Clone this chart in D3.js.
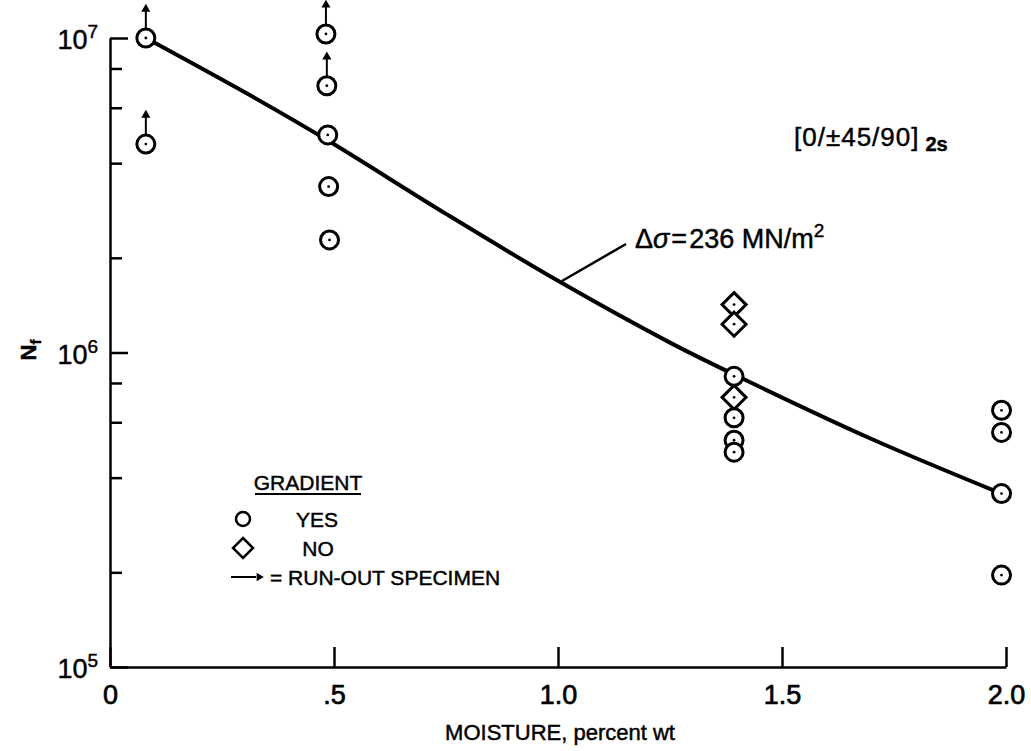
<!DOCTYPE html>
<html>
<head>
<meta charset="utf-8">
<script src="https://cdn.jsdelivr.net/npm/d3@7"></script>
<style>
body { margin: 0; background: #fff; }
text { font-family: "Liberation Sans", Arial, Helvetica, sans-serif; fill: #000; stroke: #000; stroke-width: 0.45px; }
</style>
</head>
<body>
<script>
// gradient = yes specimens (circles)
var yesMoisture = [0.08, 0.08, 0.482, 0.484, 0.486, 0.488, 0.49, 1.393, 1.393, 1.393, 1.393, 1.99, 1.99, 1.99, 1.99];
var yesCycles = [1.0e7, 4.6e6, 1.03e7, 7.05e6, 4.92e6, 3.37e6, 2.28e6, 8.4e5, 6.2e5, 5.26e5, 4.82e5, 6.55e5, 5.57e5, 3.56e5, 1.96e5];
var yesRunout = [1, 1, 1, 1, 0, 0, 0, 0, 0, 0, 0, 0, 0, 0, 0];

// gradient = no specimens (diamonds)
var noMoisture = [1.393, 1.393, 1.393];
var noCycles = [1.42e6, 1.23e6, 7.2e5];

// fitted curve, delta sigma = 236 MN/m2
var fitMoisture = [0.08, 0.3, 0.48, 0.75, 1.0, 1.25, 1.4, 1.7, 1.99];
var fitCycles = [1.0e7, 6.73e6, 4.78e6, 2.76e6, 1.69e6, 1.075e6, 8.42e5, 5.31e5, 3.56e5];

var xTicks = [0, 0.5, 1.0, 1.5, 2.0];
var xTickLabels = ["0", ".5", "1.0", "1.5", "2.0"];
var yMajor = [1e5, 1e6, 1e7];
var yMajorExp = ["5", "6", "7"];
var yMinor = [2e5, 4e5, 6e5, 8e5, 2e6, 4e6, 6e6, 8e6];

function plot_it() {
    var width = 1031, height = 751;
    var svg = d3.select('body').append('svg').attr('width', width).attr('height', height);

    var x = d3.scaleLinear().domain([0, 2]).range([110, 1006]);
    var y = d3.scaleLog().domain([1e5, 1e7]).range([667, 38]);

    // y axis, ticks point inward
    svg.append('g').attr('transform', 'translate(' + x(0) + ',0)')
        .call(d3.axisLeft(y).tickValues(yMajor).tickSize(-18).tickSizeOuter(0).tickFormat(''));
    svg.append('g').attr('transform', 'translate(' + x(0) + ',0)')
        .call(d3.axisLeft(y).tickValues(yMinor).tickSize(-12).tickSizeOuter(0).tickFormat(''))
        .select('.domain').remove();

    // x axis
    var xAxis = svg.append('g').attr('transform', 'translate(0,' + y(1e5) + ')')
        .call(d3.axisBottom(x).tickValues(xTicks).tickSize(-20).tickSizeOuter(0).tickPadding(18)
            .tickFormat(function (d, i) { return xTickLabels[i]; }));
    xAxis.selectAll('text').style('font-family', '"Liberation Sans Narrow", "Liberation Sans", Arial, sans-serif')
        .style('font-size', '27px').attr('fill', '#000').style('stroke', '#000').style('stroke-width', '0.7px');

    svg.selectAll('.domain, .tick line').attr('stroke', '#000').attr('stroke-width', 2.5);

    // y tick labels 10^n
    var yl = svg.append('g');
    yMajor.forEach(function (v, i) {
        var t = yl.append('text').attr('x', 98).attr('y', y(v) + 11)
            .attr('text-anchor', 'end').style('font-size', '27px');
        t.append('tspan').text('10');
        t.append('tspan').attr('dy', -11).style('font-size', '19px').text(yMajorExp[i]);
    });

    // axis titles
    svg.append('text').attr('x', 560).attr('y', 740).attr('text-anchor', 'middle')
        .style('font-size', '22px').text('MOISTURE, percent wt');
    var nf = svg.append('text').attr('transform', 'translate(36,350) rotate(-90)')
        .attr('text-anchor', 'middle').style('font-size', '22px').style('font-weight', 'bold');
    nf.append('tspan').text('N');
    nf.append('tspan').attr('dy', 5).style('font-size', '15px').text('f');

    // fitted curve
    var fit = fitMoisture.map(function (d, i) { return [d, fitCycles[i]]; });
    var line = d3.line().x(function (d) { return x(d[0]); }).y(function (d) { return y(d[1]); })
        .curve(d3.curveCatmullRom);
    svg.append('path').datum(fit).attr('d', line)
        .attr('fill', 'none').attr('stroke', '#000').attr('stroke-width', 4);

    // run-out arrows
    var arrowHead = d3.symbol().type(d3.symbolTriangle).size(36);
    yesMoisture.forEach(function (m, i) {
        if (!yesRunout[i]) return;
        var cx = x(m), cy = y(yesCycles[i]);
        svg.append('line').attr('x1', cx).attr('x2', cx).attr('y1', cy - 9).attr('y2', cy - 27)
            .attr('stroke', '#000').attr('stroke-width', 2);
        svg.append('path').attr('d', arrowHead).attr('transform', 'translate(' + cx + ',' + (cy - 29) + ')')
            .attr('fill', '#000');
    });

    // diamonds
    var no = svg.selectAll('.no').data(noMoisture).enter().append('g').attr('class', 'no')
        .attr('transform', function (d, i) { return 'translate(' + x(d) + ',' + y(noCycles[i]) + ')'; });
    no.append('path').attr('d', 'M0,-12L12,0L0,12L-12,0Z')
        .attr('fill', '#fff').attr('stroke', '#000').attr('stroke-width', 3);
    no.append('circle').attr('r', 1.4).attr('fill', '#000');

    // circles
    var yes = svg.selectAll('.yes').data(yesMoisture).enter().append('g').attr('class', 'yes')
        .attr('transform', function (d, i) { return 'translate(' + x(d) + ',' + y(yesCycles[i]) + ')'; });
    yes.append('circle').attr('r', 9)
        .attr('fill', '#fff').attr('stroke', '#000').attr('stroke-width', 3);
    yes.append('circle').attr('r', 1.4).attr('fill', '#000');

    // annotation
    svg.append('line').attr('x1', 562).attr('y1', 281).attr('x2', 626).attr('y2', 244)
        .attr('stroke', '#000').attr('stroke-width', 2.5);
    var ann = svg.append('text').attr('x', 635).attr('y', 248).style('font-size', '27px');
    ann.append('tspan').text('\u0394');
    ann.append('tspan').style('font-style', 'italic').text('\u03c3');
    ann.append('tspan').attr('dx', 2).text('=');
    ann.append('tspan').attr('dx', 2).text('236 MN/m');
    ann.append('tspan').attr('dy', -11).style('font-size', '19px').text('2');

    var lay = svg.append('text').attr('x', 794).attr('y', 146).style('font-size', '26px')
        .style('letter-spacing', '1px');
    lay.append('tspan').text('[0/\u00b145/90]');
    lay.append('tspan').attr('dx', 6).attr('dy', 5).style('font-size', '20px').style('font-weight', 'bold')
        .style('letter-spacing', '0px').text('2s');

    // legend
    var lg = svg.append('g');
    lg.append('text').attr('x', 308).attr('y', 490).attr('text-anchor', 'middle')
        .style('font-size', '21px').text('GRADIENT');
    lg.append('line').attr('x1', 255).attr('x2', 361).attr('y1', 494).attr('y2', 494)
        .attr('stroke', '#000').attr('stroke-width', 2);
    lg.append('circle').attr('cx', 243).attr('cy', 519).attr('r', 7)
        .attr('fill', 'none').attr('stroke', '#000').attr('stroke-width', 2.5);
    lg.append('text').attr('x', 317).attr('y', 527).attr('text-anchor', 'middle')
        .style('font-size', '21px').text('YES');
    lg.append('path').attr('d', 'M0,-10L10,0L0,10L-10,0Z').attr('transform', 'translate(243,548)')
        .attr('fill', 'none').attr('stroke', '#000').attr('stroke-width', 2.5);
    lg.append('text').attr('x', 318).attr('y', 556).attr('text-anchor', 'middle')
        .style('font-size', '21px').text('NO');
    lg.append('line').attr('x1', 231).attr('x2', 256).attr('y1', 577).attr('y2', 577)
        .attr('stroke', '#000').attr('stroke-width', 2);
    lg.append('path').attr('d', d3.symbol().type(d3.symbolTriangle).size(30))
        .attr('transform', 'translate(259,577) rotate(90)').attr('fill', '#000');
    lg.append('text').attr('x', 270).attr('y', 585)
        .style('font-size', '21px').text('= RUN-OUT SPECIMEN');
}
plot_it();
</script>
</body>
</html>
